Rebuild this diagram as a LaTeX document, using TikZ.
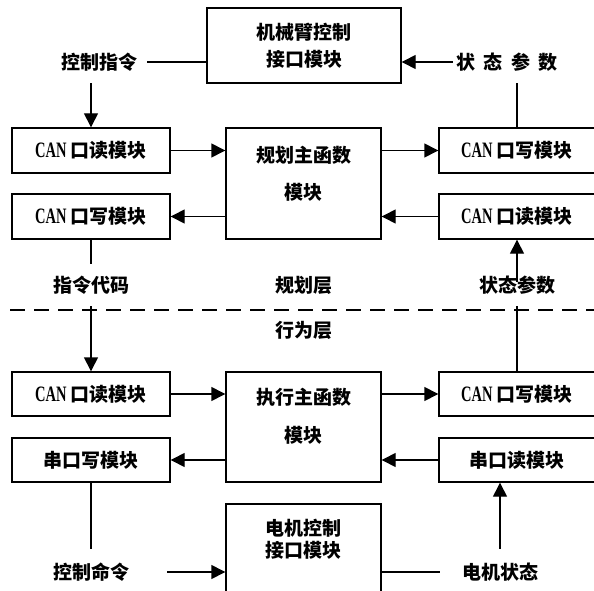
\documentclass[tikz,border=0pt]{standalone}
\usepackage{fontspec}
\setmainfont{Noto Sans CJK SC}
\newfontfamily\canfont[FakeStretch=0.66]{Liberation Serif}
\newcommand{\CANtxt}{{\canfont\bfseries\fontsize{22}{22}\selectfont CAN}}
\usetikzlibrary{arrows.meta}
\begin{document}
\begin{tikzpicture}[x=1pt,y=-1pt,
  box/.style={draw, line width=1.4pt, inner sep=0pt, font=\fontsize{19}{22}\selectfont\bfseries},
  txt/.style={inner sep=0pt, font=\fontsize{19}{22}\selectfont\bfseries},
  lbl/.style={inner sep=0pt, font=\fontsize{19}{22}\selectfont\bfseries},
  ln/.style={line width=1.4pt},
  arr/.style={line width=1.4pt, -{Triangle[length=14pt,width=14pt]}},
]
\useasboundingbox (0,0) rectangle (594,591);
% top arm control box
\node[box, minimum width=194pt, minimum height=75pt, align=center, font=\fontsize{19}{27}\selectfont\bfseries] (arm) at (304,45.5) {机械臂控制\\接口模块};
% planning layer
\node[box, minimum width=158pt, minimum height=45pt] (pl1) at (91,150.5) {\CANtxt\ 口读模块};
\node[box, minimum width=158pt, minimum height=45pt] (pl2) at (91,216.5) {\CANtxt\ 口写模块};
\node[box, minimum width=155pt, minimum height=111pt] (pm) at (303.5,183.5) {};
\node[txt] (pmt1) at (303.5,155) {规划主函数};
\node[txt] (pmt2) at (303.5,192) {模块};
\node[box, minimum width=156pt, minimum height=45pt] (pr1) at (517,150.5) {\CANtxt\ 口写模块};
\node[box, minimum width=156pt, minimum height=45pt] (pr2) at (517,216.5) {\CANtxt\ 口读模块};
% behaviour layer
\node[box, minimum width=158pt, minimum height=44pt] (bl1) at (91,394) {\CANtxt\ 口读模块};
\node[box, minimum width=158pt, minimum height=44pt] (bl2) at (91,460) {串口写模块};
\node[box, minimum width=155pt, minimum height=110pt] (bm) at (303.5,427) {};
\node[txt] (bmt1) at (303.5,397) {执行主函数};
\node[txt] (bmt2) at (303.5,435) {模块};
\node[box, minimum width=156pt, minimum height=44pt] (br1) at (517,394) {\CANtxt\ 口写模块};
\node[box, minimum width=156pt, minimum height=44pt] (br2) at (517,460) {串口读模块};
% motor box
\node[box, minimum width=155pt, minimum height=110pt] (mot) at (303.5,559) {};
\node[lbl] (mott1) at (303.5,528) {电机控制};
\node[lbl] (mott2) at (303.5,550) {接口模块};
% labels
\node[lbl, inner xsep=10pt, inner ysep=12pt] (ctl) at (99,62) {控制指令};
\node[lbl, inner xsep=3pt, inner ysep=12pt] (st1) at (507,62) {状\hspace{0.45em}态\hspace{0.45em}参\hspace{0.45em}数};
\node[lbl, inner ysep=12pt] (code) at (91,285) {指令代码};
\node[lbl] (plan) at (304,285) {规划层};
\node[lbl] (act) at (304,330) {行为层};
\node[lbl, inner ysep=12pt] (st2) at (517,285) {状态参数};
\node[lbl, inner xsep=38pt, inner ysep=14pt] (cmd) at (91,572) {控制命令};
\node[lbl, inner xsep=22pt, inner ysep=14pt] (ms) at (500,572) {电机状态};
% dashed separator
\draw[ln, dash pattern=on 15pt off 9pt] (10,310) -- (594,310);
% top connectors
\draw[ln] (ctl.east) -- (ctl.east -| arm.west);
\draw[arr] (ctl.south -| pl1.north) -- (pl1.north);
\draw[arr] (st1.west) -- (st1.west -| arm.east);
\draw[ln] (st1.south -| pr1.north) -- (pr1.north);
% planning connectors
\draw[arr] (pl1.east) -- (pl1.east -| pm.west);
\draw[arr] (pl2.east -| pm.west) -- (pl2.east);
\draw[arr] (pr1.west -| pm.east) -- (pr1.west);
\draw[arr] (pr2.west) -- (pr2.west -| pm.east);
% between layers
\draw[ln] (pl2.south) -- (code.north);
\draw[arr] (code.south) -- (bl1.north);
\draw[arr] ([yshift=-18pt]st2.north) -- (pr2.south);
\draw[ln] (st2.south) -- (br1.north);
% behaviour connectors
\draw[arr] (bl1.east) -- (bl1.east -| bm.west);
\draw[arr] (bl2.east -| bm.west) -- (bl2.east);
\draw[arr] (br1.west -| bm.east) -- (br1.west);
\draw[arr] (br2.west) -- (br2.west -| bm.east);
% motor connectors
\draw[ln] (bl2.south) -- (cmd.north);
\draw[arr] (cmd.east) -- (cmd.east -| mot.west);
\draw[ln] (ms.west -| mot.east) -- (ms.west);
\draw[arr] (ms.north) -- (ms.north |- br2.south);
\end{tikzpicture}
\end{document}
